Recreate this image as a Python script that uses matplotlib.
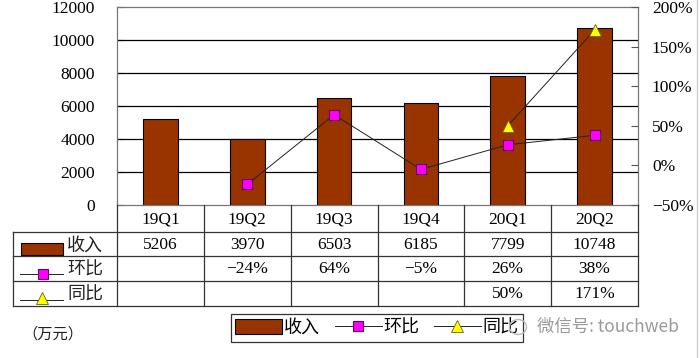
import numpy as np
import matplotlib.pyplot as plt
from matplotlib.patches import Rectangle, Ellipse
from matplotlib.lines import Line2D

# Data
quarters = ['19Q1', '19Q2', '19Q3', '19Q4', '20Q1', '20Q2']
revenue = [5206, 3970, 6503, 6185, 7799, 10748]          # 收入 (万元)
qoq = [np.nan, -24, 64, -5, 26, 38]                      # 环比 (%)
yoy = [np.nan, np.nan, np.nan, np.nan, 50, 171]          # 同比 (%)

BAR = '#993300'
NUM_FONT = ['Liberation Serif', 'Noto Sans CJK SC']
CJK_FONT = ['Noto Sans CJK SC', 'DejaVu Sans']
plt.rcParams['font.family'] = NUM_FONT


def pct(v):
    return f'{v:.0f}%'.replace('-', '\u2212')


W, H = 700, 358
fig = plt.figure(figsize=(7, 3.58), dpi=100)

# plot area in pixels
L, R, T, B = 117, 638, 7, 205
ax = fig.add_axes([L / W, 1 - B / H, (R - L) / W, (B - T) / H])
x = np.arange(len(quarters))
bars = ax.bar(x, revenue, width=0.4, color=BAR, edgecolor='black', linewidth=0.8,
              zorder=2, label='收入')
ax.set_xlim(-0.5, 5.5)
ax.set_ylim(0, 12000)
ax.set_yticks(range(0, 12001, 2000))
ax.set_xticks([])
ax.tick_params(axis='y', direction='in', length=4, pad=16, labelsize=12.5)
for v in range(2000, 12000, 2000):
    ax.axhline(v, color='black', linewidth=0.9, zorder=1)
for s in ax.spines.values():
    s.set_color('#777777')
    s.set_linewidth(0.9)

ax2 = ax.twinx()
ax2.set_ylim(-50, 200)
ax2.set_yticks(range(-50, 201, 50))
ax2.set_yticklabels([pct(v) for v in range(-50, 201, 50)])
ax2.tick_params(axis='y', direction='in', length=5, pad=10, labelsize=12.5,
                color='#555555')
for s in ax2.spines.values():
    s.set_visible(False)
l1, = ax2.plot(x, qoq, color='#222222', linewidth=0.7, marker='s', markersize=7.5,
               markerfacecolor='#ff00ff', markeredgecolor='#660066',
               markeredgewidth=0.8, label='环比', zorder=3)
l2, = ax2.plot(x, yoy, color='#222222', linewidth=0.7, marker='^', markersize=8.5,
               markerfacecolor='#ffff00', markeredgecolor='#666600',
               markeredgewidth=0.6, label='同比', zorder=3)

# data table under the plot
TL, TB = 13, 306
ppu = (R - L) / 6.0
xl = -0.5 - (L - TL) / ppu
tax = fig.add_axes([TL / W, 1 - TB / H, (R - TL) / W, (TB - B) / H])
tax.set_xlim(xl, 5.5)
tax.set_ylim(TB, B)
tax.axis('off')


def px(xp):
    return xl + (xp - TL) / ppu


rows_y = [205, 232, 256, 281, 306]
for yy in rows_y[1:]:
    tax.plot([xl, 5.5], [yy, yy], color='#333333', lw=0.9, clip_on=False)
for k in range(7):
    tax.plot([k - 0.5, k - 0.5], [205, 306], color='#333333', lw=0.9, clip_on=False)
tax.plot([xl, xl], [232, 306], color='#333333', lw=0.9, clip_on=False)

for i, q in enumerate(quarters):
    tax.text(i, 219, q, ha='center', va='center', fontsize=12.5)
    tax.text(i, 245, str(revenue[i]), ha='center', va='center', fontsize=12.5)
    if not np.isnan(qoq[i]):
        tax.text(i, 269, pct(qoq[i]), ha='center', va='center', fontsize=12.5)
    if not np.isnan(yoy[i]):
        tax.text(i, 294, pct(yoy[i]), ha='center', va='center', fontsize=12.5)

# row labels with series icons
tax.add_patch(Rectangle((px(21), 243), px(63) - px(21), 12, facecolor=BAR,
                        edgecolor='black', lw=0.8, clip_on=False))
tax.plot([px(20), px(63)], [274, 274], color='#222222', lw=0.7, clip_on=False)
tax.plot([px(43)], [274], marker='s', markersize=7.5, markerfacecolor='#ff00ff',
         markeredgecolor='#660066', markeredgewidth=0.8, clip_on=False)
tax.plot([px(20), px(63)], [300, 300], color='#222222', lw=0.7, clip_on=False)
tax.plot([px(42)], [298], marker='^', markersize=8.5, markerfacecolor='#ffff00',
         markeredgecolor='#666600', markeredgewidth=0.6, clip_on=False)
for yy, lab in zip([246, 270, 295], ['收入', '环比', '同比']):
    tax.text(px(67), yy, lab, ha='left', va='center', fontsize=13,
             family=CJK_FONT, color='#222222')

# legend
leg = fig.legend(handles=[bars, l1, l2], labels=['收入', '环比', '同比'],
                 loc='center', bbox_to_anchor=(377 / W, 1 - 328 / H), ncol=3,
                 frameon=True, fancybox=False, handlelength=2.6, handleheight=0.9,
                 handletextpad=0.1, columnspacing=0.8, borderpad=0.25,
                 prop={'family': CJK_FONT, 'size': 13})
leg.get_frame().set_edgecolor('black')
leg.get_frame().set_linewidth(0.9)

fig.text(22 / W, 1 - 334 / H, '（万元）', ha='left', va='center', fontsize=11,
         family=CJK_FONT, color='#222222')

# watermark
fig.add_artist(Ellipse((518 / W, 1 - 327 / H), 17 / W, 15 / H,
                       transform=fig.transFigure, fill=False,
                       edgecolor='#bbbbbb', lw=1.0, zorder=10))
fig.text(537 / W, 1 - 327 / H, '微信号: touchweb', ha='left', va='center',
         fontsize=12.5, family=CJK_FONT, color='#9a9a9a')

fig.add_artist(Line2D([697 / W, 697 / W], [0, 1], color='#cccccc', lw=1.0))

fig.savefig('out.png', dpi=100)
